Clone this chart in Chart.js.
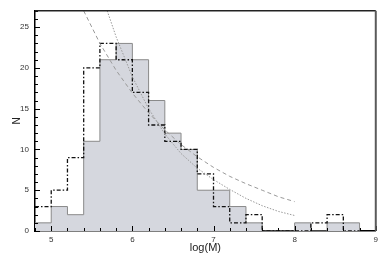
<!DOCTYPE html>
<html><head><meta charset="utf-8">
<script src="https://cdn.jsdelivr.net/npm/chart.js@4/dist/chart.umd.min.js"></script>
<style>html,body{margin:0;padding:0;background:#fff}#w{width:382px;height:263px}</style>
</head><body><div id="w"><canvas id="c"></canvas></div>
<script>
// Bin left edges (log M), bin width 0.2, last edge 8.8
const binEdges = [4.8,5.0,5.2,5.4,5.6,5.8,6.0,6.2,6.4,6.6,6.8,7.0,7.2,7.4,7.6,7.8,8.0,8.2,8.4,8.6,8.8];
// Filled grey histogram counts
const greyCounts = [1,3,2,11,21,23,21,16,12,10,5,5,3,1,0,0,1,0,1,1,0];
// Dash-dot histogram counts
const dashDotCounts = [3,5,9,20,23,21,17,13,11,10,7,3,1,2,0,0,0,1,2,0,0];
// Dashed fit curve
const dashedX = [5.40,5.60,5.80,6.00,6.20,6.40,6.60,6.80,7.00,7.20,7.40,7.60,7.80,8.00];
const dashedY = [27.0,23.0,19.7,16.9,14.5,12.4,10.6,9.1,7.8,6.7,5.8,5.0,4.2,3.6];
// Dotted fit curve
const dottedX = [5.69,5.80,6.00,6.20,6.40,6.60,6.80,7.00,7.20,7.40,7.60,7.80,8.00];
const dottedY = [27.0,23.8,18.9,15.0,11.9,9.5,7.7,6.3,5.1,4.0,3.1,2.4,1.9];
// Axis ticks
const xTicks = [5,6,7,8,9];
const yTicks = [0,5,10,15,20,25];
const xMinorStep = 0.2, yMinorStep = 1;

const pts = (xs, ys) => xs.map((x,i)=>({x, y: ys[i]}));

const FONT = "'Liberation Sans', Arial, Helvetica, sans-serif";

const frame = {
  id:'frame',
  afterDatasetsDraw(chart){
    const {ctx, chartArea:a, scales:{x, y}} = chart;
    ctx.save();
    ctx.strokeStyle = '#000';
    ctx.lineWidth = 1;
    // minor/major ticks inward
    for (let v = x.min; v <= x.max + 1e-9; v += xMinorStep) {
      const px = Math.round(x.getPixelForValue(v)) + 0.5;
      const major = xTicks.some(t => Math.abs(t - v) < 1e-6);
      ctx.beginPath(); ctx.moveTo(px, a.bottom); ctx.lineTo(px, a.bottom - (major ? 5 : 3)); ctx.stroke();
    }
    for (let v = y.min; v <= y.max + 1e-9; v += yMinorStep) {
      const py = Math.round(y.getPixelForValue(v)) + 0.5;
      const major = yTicks.includes(Math.round(v)) && Math.abs(v - Math.round(v)) < 1e-6;
      ctx.beginPath(); ctx.moveTo(a.left, py); ctx.lineTo(a.left + (major ? 5 : 3), py); ctx.stroke();
    }
    // top and right frame
    ctx.lineWidth = 1.5;
    ctx.strokeStyle = '#222';
    ctx.beginPath(); ctx.moveTo(a.left, a.top); ctx.lineTo(a.right, a.top); ctx.stroke();
    ctx.lineWidth = 2;
    ctx.strokeStyle = '#5a5a5a';
    ctx.beginPath(); ctx.moveTo(a.right, a.top); ctx.lineTo(a.right, a.bottom); ctx.stroke();
    ctx.restore();
  }
};

new Chart(document.getElementById('c'), {
  type: 'line',
  data: {
    datasets: [
      { data: pts(dashedX, dashedY), borderColor:'#9a9a9a', borderWidth:1, borderDash:[4,3], pointRadius:0, fill:false, order:1 },
      { data: pts(dottedX, dottedY), borderColor:'#9a9a9a', borderWidth:1, borderDash:[1.5,1.5], pointRadius:0, fill:false, order:1 },
      { data: pts(binEdges, dashDotCounts), stepped:true, borderColor:'#111', borderWidth:1.3, borderDash:[4,2,1.5,2], pointRadius:0, fill:false, order:2 },
      { data: pts(binEdges, greyCounts), stepped:true, borderColor:'#8a8a8a', borderWidth:1, backgroundColor:'#d5d7de', pointRadius:0, fill:'origin', order:3 }
    ]
  },
  options: {
    responsive:true, maintainAspectRatio:false, animation:false,
    events: [],
    layout: { padding: { top:5, right:6, left:0, bottom:0 } },
    plugins: { legend:{display:false}, tooltip:{enabled:false} },
    scales: {
      x: {
        type:'linear', min:4.8, max:9,
        afterBuildTicks: s => { s.ticks = xTicks.map(v => ({value:v})); },
        afterFit: s => { s.height = 32; },
        grid: { display:true, drawOnChartArea:false, drawTicks:false },
        border: { display:true, color:'#000', width:1.5 },
        ticks: { padding:4, color:'#333', font:{family:FONT, size:8}, callback: v => String(v), maxRotation:0 },
        title: { display:true, text:'log(M)', color:'#222', font:{family:FONT, size:11}, padding:{top:0, bottom:8} }
      },
      y: {
        type:'linear', min:0, max:27,
        afterBuildTicks: s => { s.ticks = yTicks.map(v => ({value:v})); },
        afterFit: s => { s.width = 35; },
        grid: { display:true, drawOnChartArea:false, drawTicks:false },
        border: { display:true, color:'#000', width:1.5 },
        ticks: { padding:6, color:'#333', font:{family:FONT, size:8}, callback: v => String(v) },
        title: { display:true, text:'N', color:'#222', font:{family:FONT, size:10}, padding:{top:11, bottom:0} }
      }
    }
  },
  plugins: [frame]
});
</script>
</body></html>
